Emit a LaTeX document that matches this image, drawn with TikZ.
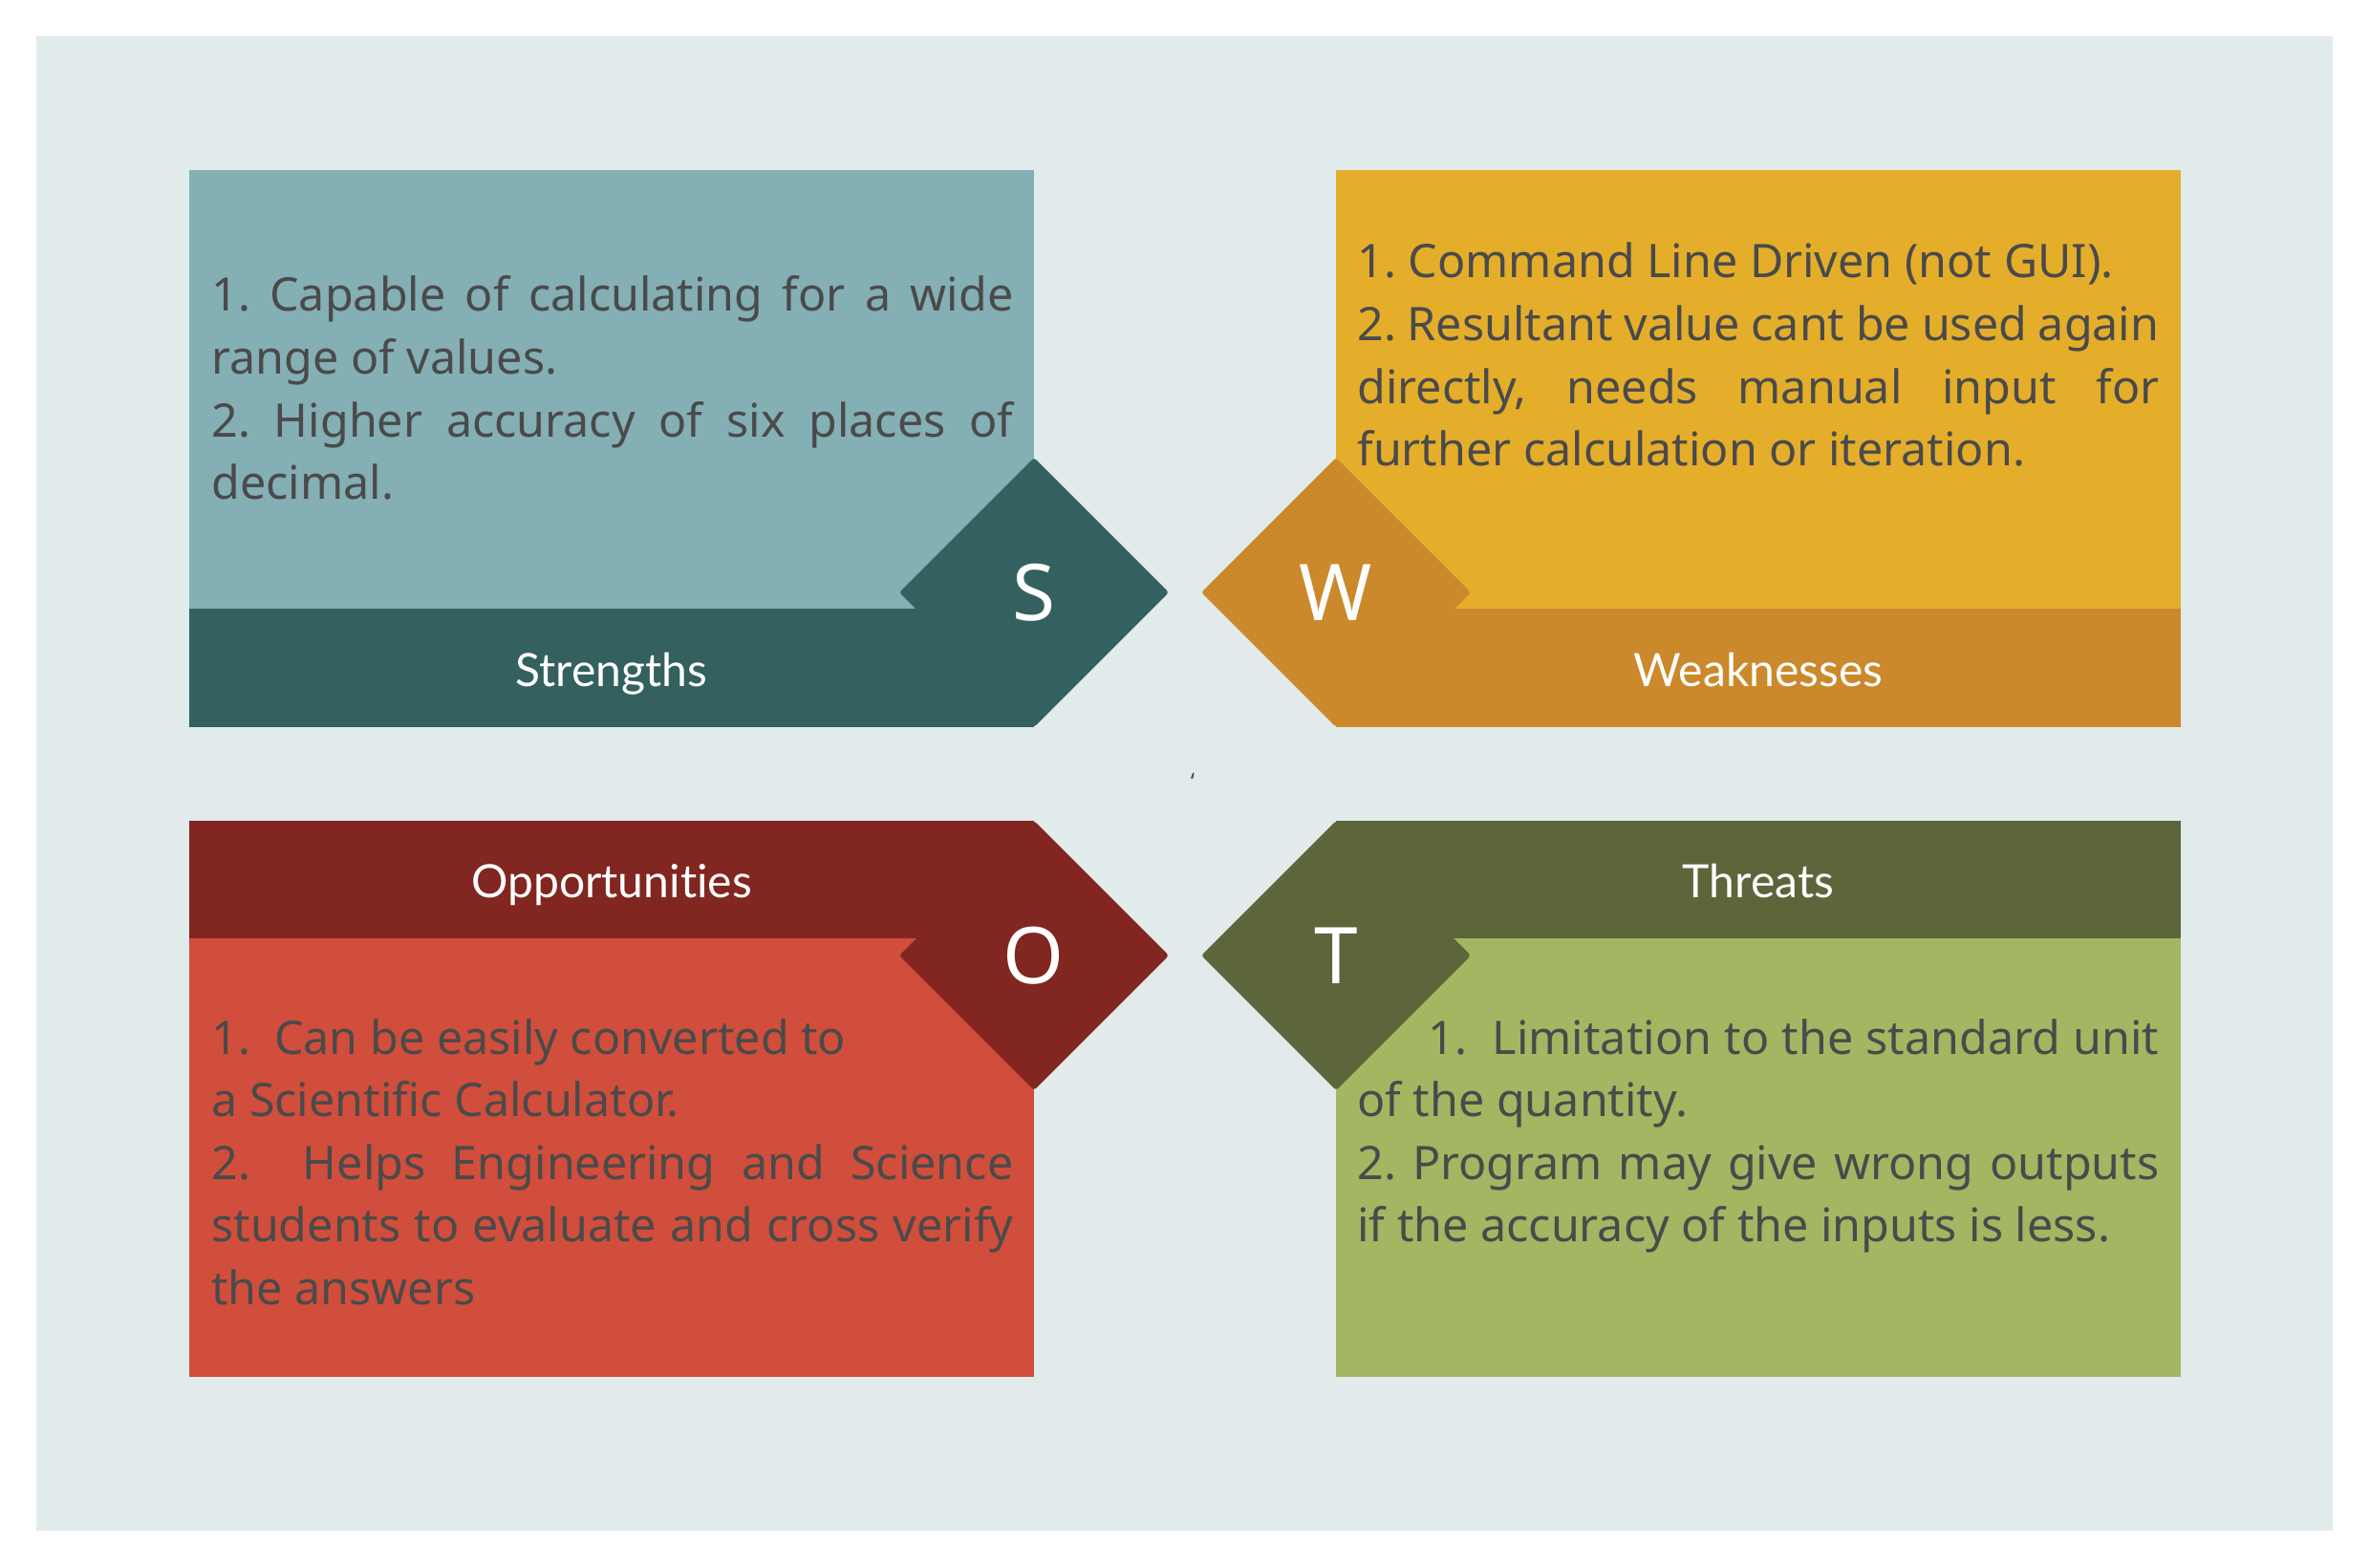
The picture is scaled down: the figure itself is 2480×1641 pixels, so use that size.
\documentclass[tikz,border=0pt]{standalone}
\usepackage{fontspec}
\setmainfont{Noto Sans}
\newfontfamily\labelfont[Ligatures=NoCommon]{Lato}
\frenchspacing
\definecolor{canvas}{HTML}{E1EBEC}
\definecolor{slight}{HTML}{84AFB4}
\definecolor{sdark}{HTML}{346060}
\definecolor{wlight}{HTML}{E4AE2B}
\definecolor{wdark}{HTML}{CB892B}
\definecolor{olight}{HTML}{D04E3B}
\definecolor{odark}{HTML}{812620}
\definecolor{tlight}{HTML}{A3B662}
\definecolor{tdark}{HTML}{5D653A}
\definecolor{bodytext}{HTML}{4A4A4A}
\begin{document}
\begin{tikzpicture}[x=0.5pt,y=-0.5pt,
  bodytextbox/.style={anchor=base west, inner sep=0pt, text width=419.5pt,
    align=justify, text=bodytext, font=\fontsize{24.2pt}{32.8pt}\selectfont},
  bandlabel/.style={anchor=base, text=white, inner sep=0pt,
    font=\labelfont\fontsize{24pt}{28pt}\selectfont},
  letter/.style={text=white, inner sep=0pt,
    font=\fontsize{41pt}{48pt}\selectfont},
  tip/.style={rounded corners=1.5pt}]

\useasboundingbox (0,0) rectangle (2480,1641);
\fill[white] (0,0) rectangle (2480,1641);
\fill[canvas] (38,38) rectangle (2441,1602);

% Strengths
\fill[slight] (198,178) rectangle (1082,637);
\fill[sdark] (198,637) rectangle (1082,761);
\fill[sdark,tip] (941,620) -- (1082,479) -- (1223,620) -- (1082,761) -- cycle;
\node[letter] (sletter) at (1082,620) {S};
\node[bandlabel] (slabel) at (640,719) {Strengths};
\node[bodytextbox] (stext) at (221,326)
  {1. Capable of calculating for a wide\linebreak range of values.\\
   2. Higher accuracy of six places of\linebreak decimal.};

% Weaknesses
\fill[wlight] (1398,178) rectangle (2282,637);
\fill[wdark] (1398,637) rectangle (2282,761);
\fill[wdark,tip] (1257,620) -- (1398,479) -- (1539,620) -- (1398,761) -- cycle;
\node[letter] (wletter) at (1398,620) {W};
\node[bandlabel] (wlabel) at (1840,719) {Weaknesses};
\node[bodytextbox] (wtext) at (1420,291)
  {1. Command Line Driven (not GUI).\\
   2. Resultant value cant be used again\linebreak directly, needs manual input for\linebreak further calculation or iteration.};

% Opportunities
\fill[olight] (198,982) rectangle (1082,1441);
\fill[odark] (198,859) rectangle (1082,982);
\fill[odark,tip] (941,1000) -- (1082,859) -- (1223,1000) -- (1082,1141) -- cycle;
\node[letter] (oletter) at (1082,1000) {O};
\node[bandlabel] (olabel) at (640,939) {Opportunities};
\node[bodytextbox] (otext) at (221,1103)
  {1.\ \ Can be easily converted to\\
   a Scientific Calculator.\\
   2.\ \ Helps Engineering and Science\linebreak students to evaluate and cross verify\linebreak the answers};

% Threats
\fill[tlight] (1398,982) rectangle (2282,1441);
\fill[tdark] (1398,859) rectangle (2282,982);
\fill[tdark,tip] (1257,1000) -- (1398,859) -- (1539,1000) -- (1398,1141) -- cycle;
\node[letter] (tletter) at (1398,1000) {T};
\node[bandlabel] (tlabel) at (1840,940) {Threats};
\node[bodytextbox] (ttext) at (1420,1103)
  {\hspace*{37pt}1.\ \ Limitation to the standard unit\linebreak of the quantity.\\
   2. Program may give wrong outputs\linebreak if the accuracy of the inputs is less.};

% stray mark between the panels
\node[text=bodytext, inner sep=0pt, font=\fontsize{12pt}{14pt}\selectfont] (mark) at (1248,818) {\symbol{96}};
\end{tikzpicture}
\end{document}
